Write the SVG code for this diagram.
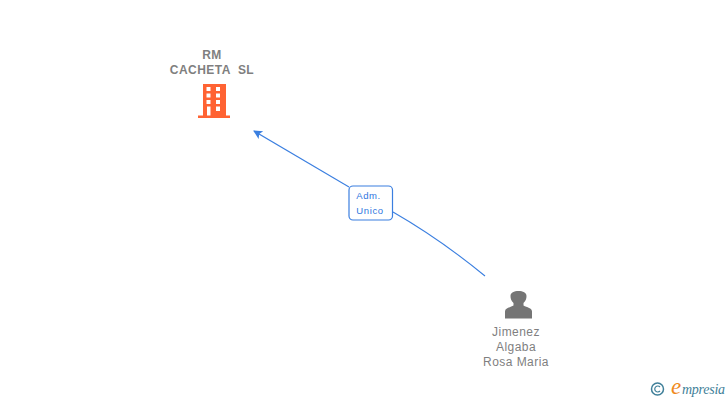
<svg xmlns="http://www.w3.org/2000/svg" width="728" height="400" viewBox="0 0 728 400">
<style>
.n{font-family:"Liberation Sans",Arial,sans-serif;font-size:12px;fill:#7f7f7f;text-anchor:middle;letter-spacing:.45px}
.b{font-weight:bold;letter-spacing:.45px}
.l{font-family:"Liberation Sans",Arial,sans-serif;font-size:9.5px;fill:#2f76e0;text-anchor:middle;letter-spacing:.6px}
.c{fill:none;stroke:#3b7fe0;stroke-width:1.1}
</style>
<defs><marker id="a" markerUnits="userSpaceOnUse" markerWidth="11" markerHeight="10" refX="1" refY="5" orient="auto"><path d="M0 5L9 .5L7 5L9 9.500Z" fill="#3b7fe0"/></marker></defs>
<rect width="728" height="400" fill="#fff"/>
<g id="connectors"><path class="c" marker-start="url(#a)" d="M254 131L349 187"/><path class="c" d="M393 212Q440 239 485 276"/></g>
<g id="company">
<text class="n b" x="212" y="59">RM</text><text class="n b" x="212" y="74" xml:space="preserve">CACHETA  SL</text>
<path fill="#ff6333" d="M203 84H226V115.500H230V118H198V115.500H203ZM206.500 87V91H210.500V87ZM216 87V91H220V87ZM206.500 93.500V97.500H210.500V93.500ZM216 93.500V97.500H220V93.500ZM206.500 100V104H210.500V100ZM216 100V104H220V100ZM207 106.500V115.500H210.500V106.500ZM216 106.500V111H220V106.500Z" fill-rule="evenodd"/>
</g>
<g id="role"><rect x="349" y="186" width="43.500" height="34" rx="4" fill="#fff" stroke="#3b7fe0" stroke-width="1.200"/><text class="l" x="368.500" y="199">Adm.</text><text class="l" x="370" y="214">Unico</text></g>
<g id="person">
<path fill="#757575" d="M505 318.500V311.500C505 308 510 307.500 513.500 305.500V303C511 301 510.500 298 510.500 296C510.500 292.500 514 291 518.500 291C523 291 526.500 292.500 526.500 296C526.500 298 526 301 523.500 303V305.500C527 307.500 532 308 532 311.500V318.500Z"/>
<text class="n" x="516" y="336">Jimenez</text><text class="n" x="516" y="351">Algaba</text><text class="n" x="516" y="366">Rosa Maria</text>
</g>
<g id="brand">
<circle cx="657.500" cy="389" r="6" fill="none" stroke="#3f7f99" stroke-width="1.500"/>
<path d="M660 387A3 3 0 1 0 660 391" fill="none" stroke="#3f7f99" stroke-width="1.200"/>
<text x="671" y="394" font-family="'Liberation Serif',serif" font-style="italic" font-size="23" fill="#f08a1d">e</text>
<text x="682" y="393.500" font-family="'Liberation Serif',serif" font-style="italic" font-size="14" fill="#3f7f99" textLength="43">mpresia</text>
</g>
</svg>
